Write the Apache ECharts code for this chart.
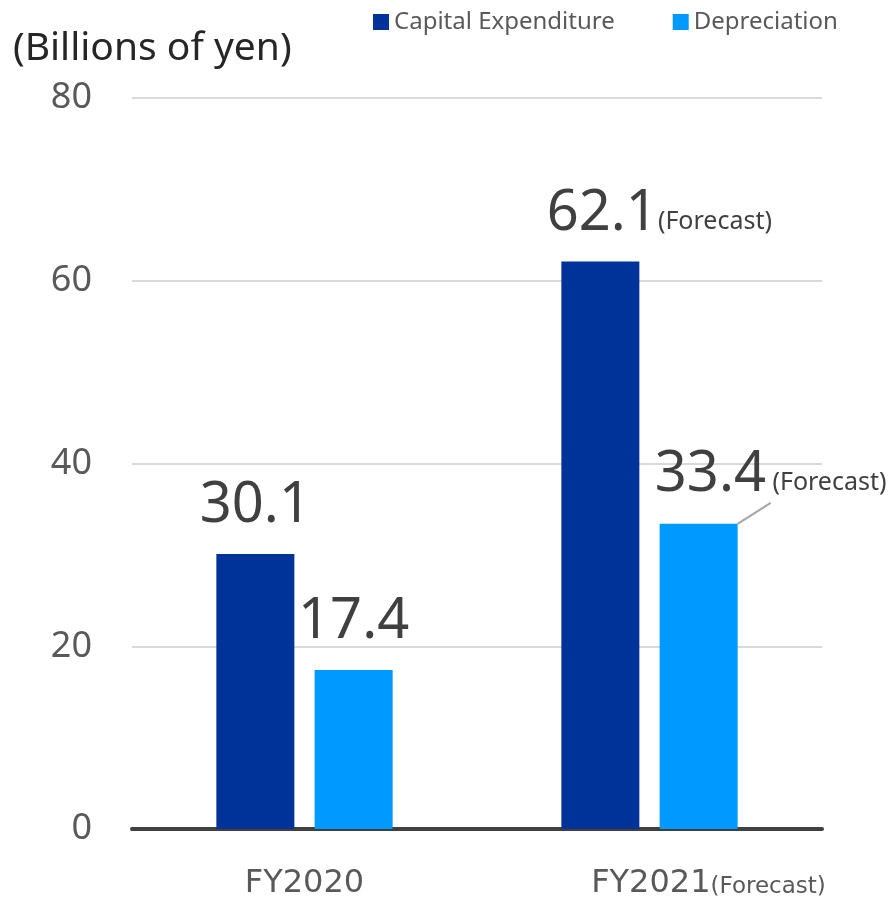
<!DOCTYPE html>
<html>
<head>
<meta charset="utf-8">
<script src="https://cdn.jsdelivr.net/npm/echarts@6/dist/echarts.min.js"></script>
<style>
  html, body { margin: 0; padding: 0; background: #ffffff; }
  #chart { width: 895px; height: 900px; }
</style>
</head>
<body>
<div id="chart"></div>
<script>
// Fiscal years and whether each figure is a forecast
const categories = ['FY2020', 'FY2021'];
const isForecast = [false, true];

// Values in billions of yen
const capexValues = [30.1, 62.1];
const depreciationValues = [17.4, 33.4];

// Value axis ticks
const yTicks = { min: 0, max: 80, interval: 20 };

const FONT = '"Noto Sans", "Open Sans", sans-serif';
const WIDE = '"DejaVu Sans", "Noto Sans", sans-serif';

const chart = echarts.init(document.getElementById('chart'), null, { renderer: 'canvas' });

const valueRich = {
  v: { fontSize: 56, color: '#404040', fontFamily: FONT },
  f: { fontSize: 25, color: '#404040', fontFamily: FONT, padding: [16, 0, 0, 0] },
  sp: { width: 118, fontSize: 25 }
};

// Depreciation points: only the forecast label is pulled aside with a leader line
const depreciationData = depreciationValues.map(function (v, i) {
  return { value: v, labelLine: { show: isForecast[i] } };
});

chart.setOption({
  animation: false,
  backgroundColor: '#ffffff',
  title: {
    text: '(Billions of yen)',
    left: 8,
    top: 24,
    textStyle: { fontSize: 39, fontWeight: 'normal', color: '#262626', fontFamily: FONT }
  },
  legend: {
    left: 368,
    top: 5,
    icon: 'rect',
    itemWidth: 16,
    itemHeight: 16,
    itemGap: 58,
    textStyle: { fontSize: 24, color: '#595959', fontFamily: FONT }
  },
  grid: { left: 132, right: 73, top: 98, bottom: 71 },
  xAxis: {
    type: 'category',
    data: categories,
    axisTick: { show: false },
    axisLine: { lineStyle: { color: '#404040', width: 4 } },
    axisLabel: {
      margin: 39,
      formatter: function (v, i) {
        return isForecast[i] ? '{sp| }{a|' + v + '}{b|(Forecast)}' : '{a|' + v + '}';
      },
      rich: {
        a: { fontSize: 32, color: '#595959', fontFamily: WIDE },
        b: { fontSize: 23, color: '#595959', fontFamily: WIDE, padding: [7, 0, 0, 0] },
        sp: { width: 118, fontSize: 23 }
      }
    }
  },
  yAxis: {
    type: 'value',
    min: yTicks.min,
    max: yTicks.max,
    interval: yTicks.interval,
    axisLine: { show: false },
    axisTick: { show: false },
    splitLine: { lineStyle: { color: '#d9d9d9', width: 2 } },
    axisLabel: { margin: 40, fontSize: 36, color: '#595959', fontFamily: FONT }
  },
  series: [
    {
      name: 'Capital Expenditure',
      type: 'bar',
      data: capexValues,
      barWidth: 78,
      barGap: '26%',
      itemStyle: { color: '#003399' },
      label: {
        show: true,
        position: 'top',
        distance: 20,
        formatter: function (p) {
          return isForecast[p.dataIndex] ? '{sp| }{v|' + p.value + '}{f|(Forecast)}' : '{v|' + p.value + '}';
        },
        rich: valueRich
      }
    },
    {
      name: 'Depreciation',
      type: 'bar',
      data: depreciationData,
      barWidth: 78,
      itemStyle: { color: '#0099ff' },
      label: {
        show: true,
        position: 'top',
        distance: 20,
        formatter: function (p) {
          return isForecast[p.dataIndex] ? '{v|' + p.value + '}{f| (Forecast)}' : '{v|' + p.value + '}';
        },
        rich: valueRich
      },
      labelLine: { show: false, lineStyle: { color: '#a6a6a6', width: 2 } },
      labelLayout: function (p) {
        if (isForecast[p.dataIndex]) {
          return { dx: 72, dy: -1 };
        }
        return {};
      }
    }
  ]
});
</script>
</body>
</html>
